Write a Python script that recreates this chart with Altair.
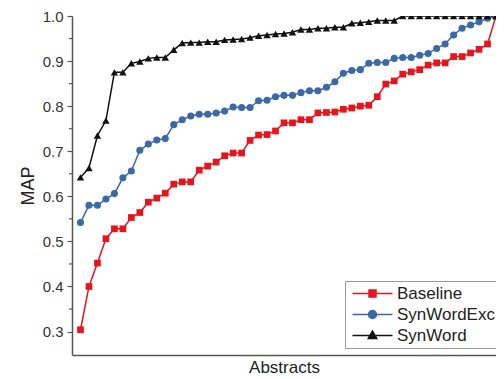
import altair as alt
import pandas as pd

series_names = ["Baseline", "SynWordExc", "SynWord"]
abstracts = list(range(1, 51))

baseline = [0.304, 0.400, 0.452, 0.506, 0.528, 0.528, 0.553, 0.564, 0.587, 0.596,
            0.607, 0.627, 0.632, 0.632, 0.658, 0.667, 0.676, 0.690, 0.696, 0.696,
            0.724, 0.736, 0.737, 0.745, 0.763, 0.763, 0.770, 0.770, 0.785, 0.786,
            0.787, 0.793, 0.796, 0.800, 0.802, 0.821, 0.849, 0.856, 0.871, 0.876,
            0.881, 0.891, 0.896, 0.896, 0.910, 0.910, 0.918, 0.926, 0.938, 1.000]

synwordexc = [0.542, 0.580, 0.580, 0.594, 0.606, 0.641, 0.656, 0.702, 0.716, 0.725,
              0.728, 0.759, 0.770, 0.778, 0.782, 0.782, 0.785, 0.789, 0.798, 0.797,
              0.797, 0.812, 0.813, 0.821, 0.824, 0.824, 0.830, 0.834, 0.834, 0.842,
              0.854, 0.873, 0.879, 0.881, 0.895, 0.897, 0.897, 0.906, 0.908, 0.908,
              0.913, 0.917, 0.928, 0.938, 0.958, 0.973, 0.980, 0.987, 0.995, 1.000]

synword = [0.642, 0.663, 0.735, 0.768, 0.875, 0.875, 0.895, 0.899, 0.906, 0.908,
           0.908, 0.925, 0.940, 0.941, 0.941, 0.943, 0.943, 0.947, 0.948, 0.949,
           0.952, 0.956, 0.958, 0.960, 0.961, 0.964, 0.970, 0.970, 0.973, 0.973,
           0.975, 0.975, 0.984, 0.985, 0.987, 0.990, 0.990, 0.990, 1.000, 1.000,
           1.000, 1.000, 1.000, 1.000, 1.000, 1.000, 1.000, 1.000, 1.000, 1.000]

y_ticks = [0.3, 0.4, 0.5, 0.6, 0.7, 0.8, 0.9, 1.0]
y_minor = [0.35, 0.45, 0.55, 0.65, 0.75, 0.85, 0.95]

rows = []
for name, vals in zip(series_names, [baseline, synwordexc, synword]):
    for i, v in zip(abstracts, vals):
        rows.append({"Abstract": i, "MAP": v, "Series": name})
df = pd.DataFrame(rows)

colors = ["#e8141c", "#3a69a6", "#111111"]
point_shapes = ["square", "circle", "triangle-up"]
point_sizes = [45, 55, 60]
# legend glyphs: a line segment with the series marker (unit = 5px at size 100)
legend_shapes = [
    "M-5.4,0M-4,0L4,0M-0.7,-0.7L0.7,-0.7L0.7,0.7L-0.7,0.7Z",
    "M-5.4,0M-4,0L4,0M0.8,0A0.8,0.8,0,1,1,-0.8,0A0.8,0.8,0,1,1,0.8,0Z",
    "M-5.4,0M-4,0L4,0M0,-0.9L0.85,0.6L-0.85,0.6Z",
]

FONT = "Liberation Sans"

x_enc = alt.X(
    "Abstract:Q",
    scale=alt.Scale(domain=[0, 50], nice=False, zero=False),
    axis=alt.Axis(title="Abstracts", labels=False, ticks=False, grid=False,
                  domainColor="#555", domainWidth=1.5, titleFont=FONT,
                  titleFontSize=17, titleFontWeight="normal", titleColor="#222",
                  titlePadding=4),
)
y_enc = alt.Y(
    "MAP:Q",
    scale=alt.Scale(domain=[0.248, 1.0], nice=False, zero=False),
    axis=alt.Axis(title="MAP", values=y_ticks, format=".1f", grid=False,
                  domainColor="#555", domainWidth=1.5, tickColor="#555",
                  tickWidth=1.2, tickSize=5, labelPadding=4, labelFont=FONT,
                  labelFontSize=15, labelColor="#333", titleFont=FONT,
                  titleFontSize=18, titleFontWeight="normal", titleColor="#222",
                  titlePadding=5),
)

def cscale():
    return alt.Scale(domain=series_names, range=colors)

lines = alt.Chart(df).mark_line(strokeWidth=1.5, clip=True).encode(
    x=x_enc, y=y_enc,
    color=alt.Color("Series:N", scale=cscale(), legend=None),
)

points = alt.Chart(df).mark_point(filled=True, opacity=1, clip=True).encode(
    x=x_enc, y=y_enc,
    color=alt.Color("Series:N", scale=cscale(), legend=None),
    shape=alt.Shape("Series:N", scale=alt.Scale(domain=series_names, range=point_shapes), legend=None),
    size=alt.Size("Series:N", scale=alt.Scale(domain=series_names, range=point_sizes), legend=None),
)

leg = alt.Legend(title=None, orient="none", legendX=273, legendY=265,
                 symbolSize=100, symbolStrokeWidth=1.5, symbolOffset=15,
                 labelFont=FONT, labelFontSize=17, labelColor="#222",
                 labelOffset=16, strokeColor="#999", padding=4, rowPadding=3)

legend_layer = alt.Chart(df).transform_filter("false").mark_point(
    filled=True, strokeWidth=1.5, opacity=1
).encode(
    x=x_enc, y=y_enc,
    fill=alt.Fill("Series:N", scale=cscale(), legend=leg),
    stroke=alt.Stroke("Series:N", scale=cscale(), legend=leg),
    shape=alt.Shape("Series:N", scale=alt.Scale(domain=series_names, range=legend_shapes), legend=leg),
)

minor = alt.Chart(pd.DataFrame({"MAP": y_minor})).mark_rule(
    color="#555", strokeWidth=1.2
).encode(y=y_enc, x=alt.value(-3), x2=alt.value(0))

chart = alt.layer(minor, lines, points, legend_layer).resolve_scale(
    color="independent", shape="independent", size="independent",
    fill="independent", stroke="independent",
).properties(
    width=424, height=339,
    autosize=alt.AutoSizeParams(type="none"),
    padding={"left": 64, "top": 8, "right": 0, "bottom": 24},
).configure_view(stroke=None)

chart.save("out.html", embed_options={"renderer": "svg", "actions": False})
